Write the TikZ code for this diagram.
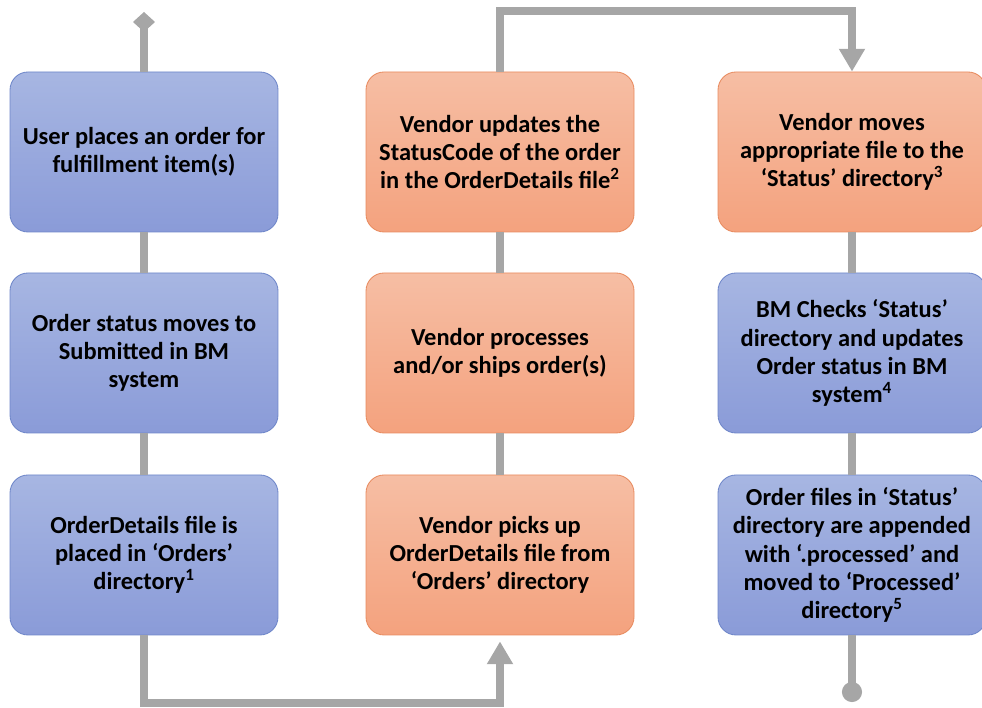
\documentclass[tikz,border=0pt]{standalone}
\usepackage{fontspec}
\setmainfont{Carlito}
\usepackage{tikz}
\usetikzlibrary{arrows.meta}
\usepackage{xcolor}
\definecolor{bluetop}{HTML}{A7B6E2}
\definecolor{bluebot}{HTML}{8A9BD8}
\definecolor{blueline}{HTML}{6E86C9}
\definecolor{orangetop}{HTML}{F6BEA4}
\definecolor{orangebot}{HTML}{F4A27E}
\definecolor{orangeline}{HTML}{E88B5F}
\definecolor{linkgray}{HTML}{A6A6A6}

\begin{document}
\begin{tikzpicture}[scale=1,
  box/.style={rounded corners=0.45cm, minimum width=6.7cm, minimum height=4cm, align=center, line width=0.6pt, font=\fontsize{17.4}{20}\selectfont\bfseries},
  bluebox/.style={box, draw=blueline, top color=bluetop, bottom color=bluebot},
  orangebox/.style={box, draw=orangeline, top color=orangetop, bottom color=orangebot},
  link/.style={line width=0.2cm, draw=linkgray}]

\useasboundingbox (0,0) rectangle (24.55,17.7);


\node [bluebox] (a) at (3.6, 13.9) {User places an order for\\ fulfillment item(s)};
\node [bluebox] (b) at (3.6, 8.875) {Order status moves to\\ Submitted in BM\\ system};
\node [bluebox] (c) at (3.6, 3.825) {OrderDetails file is\\ placed in ‘Orders’\\ directory\textsuperscript{1}};

\node [orangebox] (d) at (12.5, 3.825) {Vendor picks up\\ OrderDetails file from\\ ‘Orders’ directory};
\node [orangebox] (e) at (12.5, 8.875) {Vendor processes\\ and/or ships order(s)};
\node [orangebox] (f) at (12.5, 13.9) {Vendor updates the\\ StatusCode of the order\\ in the OrderDetails file\textsuperscript{2}};

\node [orangebox] (g) at (21.3, 13.9) {Vendor moves\\ appropriate file to the\\ ‘Status’ directory\textsuperscript{3}};
\node [bluebox] (h) at (21.3, 8.875) {BM Checks ‘Status’\\ directory and updates\\ Order status in BM\\ system\textsuperscript{4}};
\node [bluebox] (i) at (21.3, 3.825) {Order files in ‘Status’\\ directory are appended\\ with ‘.processed’ and\\ moved to ‘Processed’\\ directory\textsuperscript{5}};


\coordinate (j) at (3.6, 17.4);
\coordinate (k) at (3.6, 0.125);
\coordinate (l) at (12.5, 17.425);
\coordinate (m) at (21.3, 0.15);



\draw [link, -{Diamond[width=0.55cm, length=0.5cm]}] (a.north) -- (j);
\draw [link] (a) -- (b);
\draw [link] (b) -- (c);
\draw [link, -{Triangle[width=0.62cm, length=0.57cm]}, shorten >=0.15cm] (c.south) -- (k) -| (d.south);

\draw [link] (d) -- (e);
\draw [link] (e) -- (f);
\draw [link, -{Triangle[width=0.62cm, length=0.57cm]}] (f.north) -- (l) -| (g.north);

\draw [link] (g) -- (h);
\draw [link] (h) -- (i);
\draw [link, -{Circle[length=0.5cm]}] (i.south) -- (m);

\end{tikzpicture}
\end{document}
